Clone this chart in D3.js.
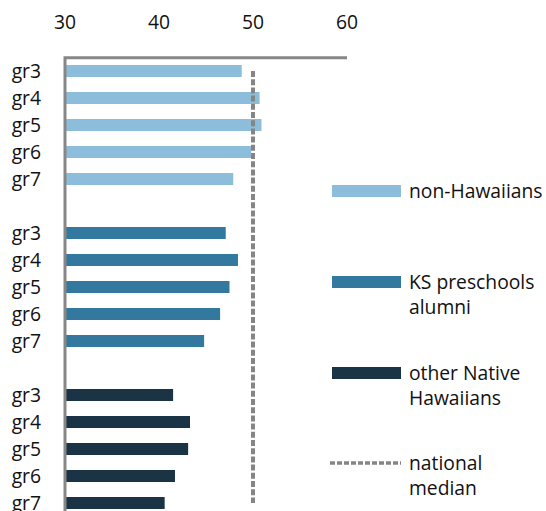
<!DOCTYPE html>
<html>
<head>
<meta charset="utf-8">
<script src="https://cdn.jsdelivr.net/npm/d3@7/dist/d3.min.js"></script>
<style>
  body { margin: 0; background: #fff; }
  text { font-family: "Open Sans", sans-serif; fill: #111; font-size: 19.3px; }
</style>
</head>
<body>
<svg width="546" height="511"></svg>
<script>
var grades = ["gr3", "gr4", "gr5", "gr6", "gr7"];
var groups = ["non-Hawaiians", "KS preschools alumni", "other Native Hawaiians"];
var nonHawaiians = [48.8, 50.7, 50.9, 49.8, 47.9];
var ksAlumni = [47.1, 48.4, 47.5, 46.5, 44.8];
var otherNative = [41.5, 43.3, 43.1, 41.7, 40.6];
var nationalMedian = 50;
var xTicks = [30, 40, 50, 60];

var colors = ["#8cbdda", "#33789e", "#1a3446"];
var legendLines = [["non-Hawaiians"], ["KS preschools", "alumni"], ["other Native", "Hawaiians"]];

var svg = d3.select("svg");

// one slot per bar, with an empty slot between groups
var series = [nonHawaiians, ksAlumni, otherNative];
var slots = [], bars = [];
series.forEach(function(vals, gi) {
  if (gi > 0) slots.push("gap" + gi);
  vals.forEach(function(v, i) {
    var key = gi + "-" + grades[i];
    slots.push(key);
    bars.push({key: key, grade: grades[i], value: v, group: gi});
  });
});

var x = d3.scaleLinear().domain([30, 60]).range([65, 347]);
var y = d3.scaleBand().domain(slots).range([57.5, 516.5])
    .paddingInner(0.556).paddingOuter(0.278);

// bars
svg.append("g").selectAll("rect")
  .data(bars)
  .enter().append("rect")
    .attr("x", x(30))
    .attr("y", function(d) { return y(d.key); })
    .attr("width", function(d) { return x(d.value) - x(30); })
    .attr("height", y.bandwidth())
    .attr("fill", function(d) { return colors[d.group]; });

// national median dashed line, first slot to last slot
var first = slots[0], last = slots[slots.length - 1];
svg.append("line")
  .attr("x1", x(nationalMedian)).attr("x2", x(nationalMedian))
  .attr("y1", y(first) + y.bandwidth() / 2)
  .attr("y2", y(last) + y.bandwidth() / 2)
  .attr("stroke", "#858585")
  .attr("stroke-width", 4)
  .attr("stroke-dasharray", "6,2.2");

// axis lines
svg.append("path")
  .attr("d", "M" + x(60) + "," + 57.7 + "H" + x(30) + "V511")
  .attr("fill", "none")
  .attr("stroke", "#878787")
  .attr("stroke-width", 3);

// top tick labels
svg.append("g").selectAll("text")
  .data(xTicks)
  .enter().append("text")
    .attr("x", function(d) { return x(d); })
    .attr("y", 22)
    .attr("dy", "0.35em")
    .attr("text-anchor", "middle")
    .text(function(d) { return d; });

// category labels
svg.append("g").selectAll("text")
  .data(bars)
  .enter().append("text")
    .attr("x", 41)
    .attr("y", function(d) { return y(d.key) + y.bandwidth() / 2; })
    .attr("dy", "0.35em")
    .attr("text-anchor", "end")
    .text(function(d) { return d.grade; });

// legend
var legY = [191, 282, 373, 463];
var leg = svg.append("g");
groups.forEach(function(name, i) {
  leg.append("rect")
    .attr("x", 332).attr("y", legY[i] - 6)
    .attr("width", 69).attr("height", 12)
    .attr("fill", colors[i]);
  legendLines[i].forEach(function(t, j) {
    leg.append("text")
      .attr("x", 409).attr("y", legY[i] + j * 25)
      .attr("dy", "0.35em")
      .text(t);
  });
});
leg.append("line")
  .attr("x1", 330).attr("x2", 401)
  .attr("y1", legY[3]).attr("y2", legY[3])
  .attr("stroke", "#858585")
  .attr("stroke-width", 3.5)
  .attr("stroke-dasharray", "5,2");
["national", "median"].forEach(function(t, j) {
  leg.append("text")
    .attr("x", 409).attr("y", legY[3] + j * 25)
    .attr("dy", "0.35em")
    .text(t);
});
</script>
</body>
</html>
